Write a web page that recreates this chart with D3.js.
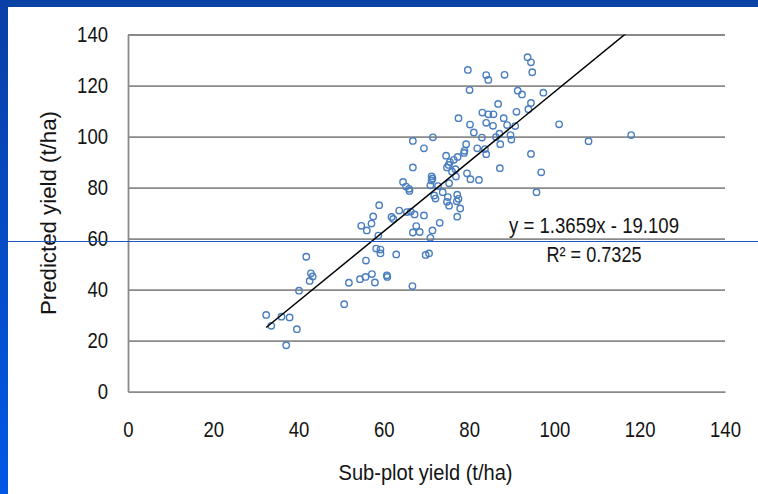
<!DOCTYPE html>
<html>
<head>
<meta charset="utf-8">
<script src="https://cdn.jsdelivr.net/npm/d3@7"></script>
<style>
  html, body { margin: 0; padding: 0; background: #fff; }
  svg { display: block; }
</style>
</head>
<body>
<div id="chart"></div>
<script>
// sub-plot yield (x) vs predicted yield (y), t/ha
const subPlotYield = [
  32.4, 33.6, 36.0, 37.9, 39.6, 37.1, 40.1, 41.8, 42.9, 43.3, 42.6, 50.7, 51.8, 54.4, 55.7, 57.2,
  57.9, 55.8, 58.2, 59.2, 59.2, 60.7, 60.8, 62.9, 66.7, 69.8, 70.6, 54.7, 56.0, 57.1, 57.5, 58.9,
  58.7, 61.8, 62.2, 63.6, 65.4, 66.3, 67.2, 69.4, 67.6, 66.8, 68.4, 71.4, 70.9, 73.1, 64.5, 65.2,
  65.9, 66.0, 66.8, 66.8, 69.4, 71.5, 71.2, 71.4, 71.2, 70.9, 72.7, 73.8, 71.8, 72.1, 75.0, 74.8,
  75.3, 77.2, 77.5, 77.1, 77.9, 77.2, 75.3, 74.6, 77.3, 76.4, 75.5, 75.2, 74.8, 76.8, 76.0, 76.9,
  79.5, 80.3, 82.3, 79.3, 78.9, 78.8, 81.9, 83.7, 84.0, 87.2, 77.5, 80.2, 81.1, 83.0, 84.0, 85.6,
  86.3, 87.1, 87.3, 88.9, 89.7, 89.9, 90.8, 83.1, 84.5, 85.7, 88.1, 86.8, 91.1, 93.9, 94.5, 80.1,
  91.4, 92.4, 97.4, 79.7, 84.0, 84.5, 88.3, 93.7, 94.5, 94.8, 101.1, 108.0, 118.0, 94.5, 96.9, 95.8
];
const predictedYield = [
  30.1, 25.8, 29.4, 29.1, 24.5, 18.2, 39.6, 52.9, 46.4, 45.2, 43.4, 34.3, 42.7, 44.1, 45.0, 46.1,
  42.8, 51.4, 56.1, 55.7, 54.2, 45.6, 45.0, 53.8, 41.4, 53.6, 54.2, 65.0, 63.2, 65.9, 68.7, 73.1,
  61.2, 68.5, 67.7, 71.0, 70.4, 70.6, 69.5, 69.1, 64.9, 62.4, 62.6, 63.2, 60.3, 66.2, 82.2, 80.4,
  79.5, 78.7, 87.9, 98.3, 95.4, 99.7, 84.4, 83.6, 82.8, 80.9, 80.6, 78.2, 76.9, 75.7, 76.3, 74.4,
  72.9, 77.2, 75.6, 74.6, 71.8, 68.6, 81.7, 92.5, 92.0, 90.9, 90.0, 88.9, 87.9, 87.2, 86.2, 84.3,
  85.6, 83.3, 83.0, 97.0, 94.4, 93.6, 95.4, 95.1, 93.1, 87.6, 107.2, 104.7, 101.6, 99.6, 105.4, 104.2,
  99.8, 101.1, 97.0, 104.5, 100.6, 98.8, 104.1, 109.4, 108.7, 108.7, 107.2, 112.8, 109.7, 110.7, 113.2, 118.2,
  118.0, 116.5, 117.2, 126.1, 124.1, 122.2, 124.2, 131.1, 129.1, 125.2, 104.8, 98.2, 100.6, 93.2, 86.0, 78.2
];
const xTicks = [0, 20, 40, 60, 80, 100, 120, 140];
const yTicks = [0, 20, 40, 60, 80, 100, 120, 140];
const trendSlope = 1.3659;
const trendIntercept = -19.109;
const rSquared = 0.7325;

const W = 758, H = 494;
const plot = { left: 128, right: 725, top: 34.5, bottom: 391.7 };
const FONT = "'Liberation Sans', Arial, sans-serif";
const DIGIT_W = 10.3; // condensed digit width in the original

// squeeze text into the narrow face used by the original slide
function styleText(sel, size, width) {
    sel.style("font-family", FONT)
        .style("font-size", `${size}px`)
        .attr("fill", "#141414");
    if (width) sel.attr("textLength", width).attr("lengthAdjust", "spacingAndGlyphs");
    return sel;
}

const svg = d3.select("#chart").append("svg")
    .attr("width", W)
    .attr("height", H);

// slide frame
const defs = svg.append("defs");
const grad = defs.append("linearGradient")
    .attr("id", "sideBand")
    .attr("x1", 0).attr("y1", 0).attr("x2", 0).attr("y2", 1);
grad.append("stop").attr("offset", "0%").attr("stop-color", "#0a3fa6");
grad.append("stop").attr("offset", "100%").attr("stop-color", "#0058e6");

defs.append("clipPath").attr("id", "plotClip")
  .append("rect")
    .attr("x", plot.left).attr("y", plot.top)
    .attr("width", plot.right - plot.left)
    .attr("height", plot.bottom - plot.top);

svg.append("rect").attr("width", W).attr("height", H).attr("fill", "#fff");
svg.append("rect").attr("x", 0).attr("y", 0).attr("width", W).attr("height", 7).attr("fill", "#0a42a6");
svg.append("rect").attr("x", 0).attr("y", 0).attr("width", 8).attr("height", H).attr("fill", "url(#sideBand)");

const x = d3.scaleLinear().domain([0, 140]).range([plot.left, plot.right]);
const y = d3.scaleLinear().domain([0, 140]).range([plot.bottom, plot.top]);

// horizontal gridlines
svg.append("g")
    .attr("transform", `translate(${plot.left}, 0)`)
    .call(d3.axisLeft(y).tickValues(yTicks.slice(1)).tickSize(-(plot.right - plot.left)).tickFormat(""))
    .call(g => g.select(".domain").remove())
    .selectAll("line")
    .attr("stroke", "#8a8a8a")
    .attr("stroke-width", 1.8);

// y axis
const yAxis = svg.append("g")
    .attr("transform", `translate(${plot.left}, 0)`)
    .call(d3.axisLeft(y).tickValues(yTicks).tickSize(0).tickPadding(20));
yAxis.select(".domain").attr("stroke", "#8a8a8a").attr("stroke-width", 1.8);
yAxis.selectAll("text").each(function (d) {
    styleText(d3.select(this), 22, String(d).length * DIGIT_W);
});

// x axis
const xAxis = svg.append("g")
    .attr("transform", `translate(0, ${plot.bottom})`)
    .call(d3.axisBottom(x).tickValues(xTicks).tickSize(0).tickPadding(30));
xAxis.select(".domain").attr("stroke", "#8a8a8a").attr("stroke-width", 1.8);
xAxis.selectAll("text").each(function (d) {
    styleText(d3.select(this), 22, String(d).length * DIGIT_W);
});

// points
svg.append("g")
    .selectAll("circle")
    .data(subPlotYield.map((v, i) => [v, predictedYield[i]]))
    .enter().append("circle")
    .attr("cx", d => x(d[0]))
    .attr("cy", d => y(d[1]))
    .attr("r", 3.2)
    .attr("fill", "none")
    .attr("stroke", "#4a7ebf")
    .attr("stroke-width", 1.4);

// linear trendline
const xMin = d3.min(subPlotYield), xMax = d3.max(subPlotYield);
svg.append("line")
    .attr("clip-path", "url(#plotClip)")
    .attr("x1", x(xMin))
    .attr("y1", y(trendSlope * xMin + trendIntercept))
    .attr("x2", x(xMax))
    .attr("y2", y(trendSlope * xMax + trendIntercept))
    .attr("stroke", "#000")
    .attr("stroke-width", 1.5);

// equation + R²
const eqX = 594;
styleText(svg.append("text"), 22, 170)
    .attr("x", eqX).attr("y", 233)
    .attr("text-anchor", "middle")
    .text(`y = ${trendSlope}x - ${Math.abs(trendIntercept)}`);
styleText(svg.append("text"), 22, 95)
    .attr("x", eqX).attr("y", 262)
    .attr("text-anchor", "middle")
    .text(`R² = ${rSquared}`);

// axis titles
styleText(svg.append("text"), 22, 174)
    .attr("x", (plot.left + plot.right) / 2 - 1)
    .attr("y", 480)
    .attr("text-anchor", "middle")
    .text("Sub-plot yield (t/ha)");

styleText(svg.append("text"), 22, 204)
    .attr("transform", `translate(56, ${(plot.top + plot.bottom) / 2}) rotate(-90)`)
    .attr("text-anchor", "middle")
    .text("Predicted yield (t/ha)");

// stray rule across the slide
svg.append("line")
    .attr("x1", 8).attr("x2", W)
    .attr("y1", 241.5).attr("y2", 241.5)
    .attr("stroke", "#1f57c2")
    .attr("stroke-width", 1);
</script>
</body>
</html>
